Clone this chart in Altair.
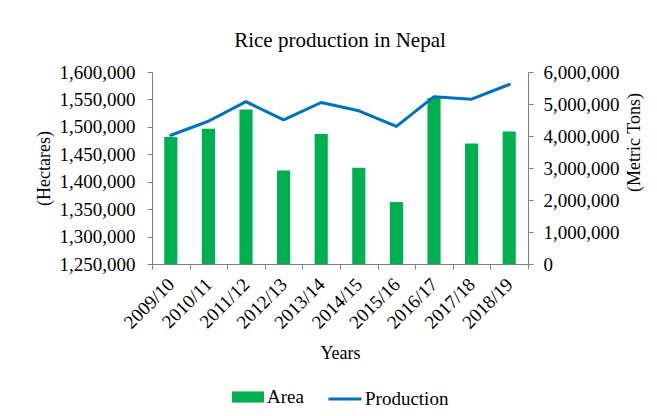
import altair as alt
import pandas as pd

years = ["2009/10", "2010/11", "2011/12", "2012/13", "2013/14",
         "2014/15", "2015/16", "2016/17", "2017/18", "2018/19"]
area = [1481300, 1496500, 1531500, 1420600, 1487000,
        1425300, 1362900, 1552500, 1469500, 1491700]
production = [4023800, 4460300, 5072200, 4504500, 5047000,
              4788600, 4299100, 5230300, 5151900, 5610000]
area_ticks = [1250000, 1300000, 1350000, 1400000, 1450000, 1500000, 1550000, 1600000]
prod_ticks = [0, 1000000, 2000000, 3000000, 4000000, 5000000, 6000000]

df = pd.DataFrame({
    "Year": years,
    "Area": area,
    "Production": production,
    "s1": ["Area"] * len(years),
    "s2": ["Production"] * len(years),
})

FONT = "Liberation Serif"
AXC = "#808080"

x_enc = alt.X(
    "Year:N",
    sort=years,
    scale=alt.Scale(paddingInner=0, paddingOuter=0),
    axis=alt.Axis(
        title="Years",
        labelAngle=-45,
        labelAlign="right",
        labelBaseline="middle",
        labelPadding=12,
        labelFont=FONT,
        labelFontSize=19,
        tickBand="extent",
        tickSize=5,
        titleFontSize=18,
        titleY=94,
        titleBaseline="alphabetic",
        titlePadding=0,
    ),
)

bars = alt.Chart(df).mark_bar(width=alt.RelativeBandSize(0.35)).encode(
    x=x_enc,
    y=alt.Y(
        "Area:Q",
        scale=alt.Scale(domain=[1250000, 1600000], zero=False, nice=False),
        axis=alt.Axis(
            title="(Hectares)",
            values=area_ticks,
            labelExpr="format(datum.value, ',')",
            labelFont=FONT,
            labelFontSize=19,
            labelColor="black",
            labelPadding=12,
            tickSize=5,
            titleFontSize=18,
            titleAngle=-90,
            titleX=-108,
            titleY=96,
            titleAlign="center",
            titleBaseline="middle",
        ),
    ),
    y2=alt.datum(1250000),
    color=alt.Color(
        "s1:N",
        scale=alt.Scale(domain=["Area"], range=["#00B050"]),
        legend=alt.Legend(
            title=None,
            orient="none",
            legendX=80,
            legendY=309,
            symbolType="M-1,-0.35H1V0.35H-1Z",
            symbolSize=1024,
            symbolStrokeWidth=0,
            labelFontSize=19,
            labelFont=FONT,
            labelColor="black",
            labelOffset=3,
            padding=0,
        ),
    ),
)

line = alt.Chart(df).mark_line(strokeWidth=3, strokeCap="round", strokeJoin="round").encode(
    x=alt.X("Year:N", sort=years),
    y=alt.Y(
        "Production:Q",
        scale=alt.Scale(domain=[0, 6000000], nice=False),
        axis=alt.Axis(
            title="(Metric Tons)",
            orient="right",
            values=prod_ticks,
            labelExpr="format(datum.value, ',')",
            labelFont=FONT,
            labelFontSize=19,
            labelColor="black",
            labelPadding=10,
            tickSize=5,
            titleFontSize=18,
            titleAngle=-90,
            titleX=106,
            titleY=70,
            titleAlign="center",
            titleBaseline="middle",
        ),
    ),
    stroke=alt.Stroke(
        "s2:N",
        scale=alt.Scale(domain=["Production"], range=["#0070C0"]),
        legend=alt.Legend(
            title=None,
            orient="none",
            legendX=175,
            legendY=309,
            symbolType="stroke",
            symbolSize=1089,
            symbolStrokeWidth=3,
            labelFontSize=19,
            labelFont=FONT,
            labelColor="black",
            labelOffset=2,
            padding=0,
        ),
    ),
)

chart = (
    alt.layer(bars, line)
    .resolve_scale(y="independent")
    .properties(
        width=376,
        height=192,
        padding={"left": 152, "top": 72, "right": 129, "bottom": 152},
        autosize=alt.AutoSizeParams(type="none"),
        background="white",
        title=alt.Title(
            "Rice production in Nepal",
            font=FONT,
            fontSize=21,
            fontWeight="normal",
            color="black",
            anchor="middle",
            baseline="alphabetic",
            offset=-5,
        ),
    )
    .configure_view(stroke=None)
    .configure_axis(
        grid=False,
        labelFont=FONT,
        labelFontSize=19,
        labelColor="black",
        titleFont=FONT,
        titleFontWeight="normal",
        titleColor="black",
        domainColor=AXC,
        tickColor=AXC,
        domainWidth=1,
        tickWidth=1,
        labelOverlap=False,
    )
)

chart.save("out.html", embed_options={"renderer": "svg", "actions": False})
